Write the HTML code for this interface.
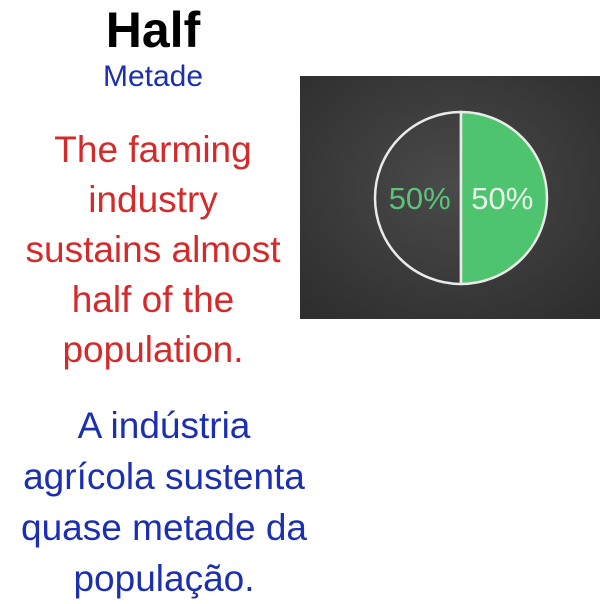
<!DOCTYPE html>
<html><head><meta charset="utf-8"><style>
html,body{margin:0;padding:0;background:#fff;width:600px;height:600px;overflow:hidden;font-family:"Liberation Sans",sans-serif}
.t{position:absolute;left:0;width:306px;text-align:center;white-space:nowrap}
.red{color:#d42a2a;font-size:37px;line-height:50px}
.blue{color:#1b2fb0;font-size:37px;line-height:51px}
</style></head><body>
<div class="t" style="top:2px;font-size:50px;font-weight:bold;color:#000;line-height:56px">Half</div>
<div class="t" style="top:59px;font-size:30px;color:#1b2fb0;line-height:36px">Metade</div>
<div class="t red" style="top:125px">The farming<br>industry<br>sustains almost<br>half of the<br>population.</div>
<div class="t blue" style="top:400px;left:11px">A indústria<br>agrícola sustenta<br>quase metade da<br>população.</div>
<svg id="chart" style="position:absolute;left:300px;top:76px" width="300" height="243">
<defs><radialGradient id="bg" cx="50%" cy="45%" r="70%"><stop offset="0" stop-color="#4a4a4a"/><stop offset="1" stop-color="#2e2e2e"/></radialGradient></defs>
<rect width="300" height="243" fill="url(#bg)"/>
</svg>
<script>
const labels=["50%","50%"];
const values=[50,50];
const fills=["none","#4fc46e"];
const svg=document.getElementById('chart');
const NS="http://www.w3.org/2000/svg";
const cx=161,cy=122,r=86;
const total=values.reduce((a,b)=>a+b,0);
let ang=0;
values.forEach((v,i)=>{
  const a0=ang, a1=ang+v/total*2*Math.PI; ang=a1;
  const p=(a)=>[cx-r*Math.sin(a),cy-r*Math.cos(a)];
  const [x0,y0]=p(a0),[x1,y1]=p(a1);
  const large=(a1-a0)>Math.PI?1:0;
  const path=document.createElementNS(NS,'path');
  path.setAttribute('d',`M${cx},${cy}L${x0},${y0}A${r},${r} 0 ${large} 0 ${x1},${y1}Z`);
  path.setAttribute('fill',fills[i]);
  path.setAttribute('stroke','#eaeaea');
  path.setAttribute('stroke-width','2.5');
  
  
  svg.appendChild(path);
  const mid=(a0+a1)/2;
  const tx=cx-r*0.48*Math.sin(mid);
  const t=document.createElementNS(NS,'text');
  t.setAttribute('x',tx);t.setAttribute('y',cy+11);
  t.setAttribute('text-anchor','middle');
  t.setAttribute('font-size','31');
  t.setAttribute('font-family','Liberation Sans, sans-serif');
  t.setAttribute('fill',i==0?'#5cc47a':'#e8f5ea');
  t.textContent=labels[i];
  
  
  svg.appendChild(t);
});
</script>
</body></html>
